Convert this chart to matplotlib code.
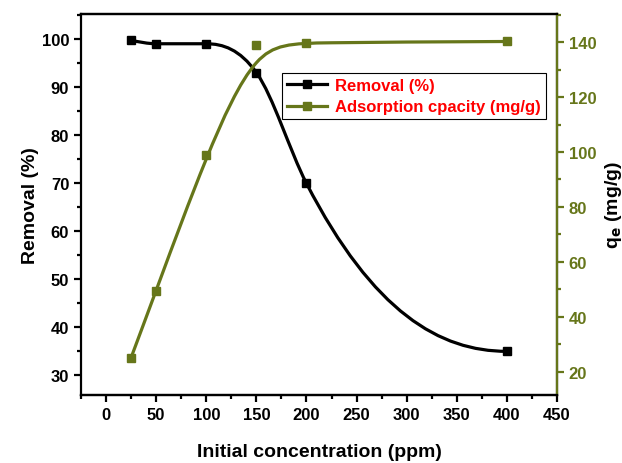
import numpy as np
import matplotlib.pyplot as plt
from matplotlib.path import Path
from matplotlib.patches import PathPatch
from matplotlib.lines import Line2D
from matplotlib.ticker import MultipleLocator

plt.rcParams['font.family'] = ['Liberation Sans', 'DejaVu Sans']
plt.rcParams['font.weight'] = 'bold'

# data
conc = [25, 50, 100, 150, 200, 400]
removal = [99.7, 99.0, 99.0, 93.0, 69.9, 34.9]
qe = [25.2, 49.6, 99.0, 139.0, 139.8, 140.2]

OLIVE = '#66761a'


def hermite_path(x, y):
    # smooth curve through the points (three point slopes, flat at turns), as bezier segments
    x = np.asarray(x, float); y = np.asarray(y, float)
    h = np.diff(x); d = np.diff(y) / h
    n = len(x)
    m = np.zeros(n)
    for k in range(1, n - 1):
        if d[k - 1] * d[k] > 0:
            m[k] = (h[k] * d[k - 1] + h[k - 1] * d[k]) / (h[k - 1] + h[k])
    def end(h0, h1, d0, d1):
        v = ((2 * h0 + h1) * d0 - h0 * d1) / (h0 + h1)
        if np.sign(v) != np.sign(d0):
            v = 0
        return v
    m[0] = end(h[0], h[1], d[0], d[1])
    m[-1] = end(h[-1], h[-2], d[-1], d[-2])
    verts = [(x[0], y[0])]; codes = [Path.MOVETO]
    for i in range(n - 1):
        t = h[i] / 3
        verts += [(x[i] + t, y[i] + t * m[i]), (x[i + 1] - t, y[i + 1] - t * m[i + 1]), (x[i + 1], y[i + 1])]
        codes += [Path.CURVE4] * 3
    return Path(verts, codes)


def bspline_path(x, y):
    # cubic b-spline with the points as control points, ends clamped
    q = np.column_stack([x, y]).astype(float)
    q = np.vstack([q[0], q[0], q, q[-1], q[-1]])
    verts = []; codes = []
    for i in range(len(q) - 3):
        a, b, c, e = q[i], q[i + 1], q[i + 2], q[i + 3]
        b0 = (a + 4 * b + c) / 6
        b1 = (4 * b + 2 * c) / 6
        b2 = (2 * b + 4 * c) / 6
        b3 = (b + 4 * c + e) / 6
        if i == 0:
            verts.append(tuple(b0)); codes.append(Path.MOVETO)
        verts += [tuple(b1), tuple(b2), tuple(b3)]
        codes += [Path.CURVE4] * 3
    return Path(verts, codes)


fig = plt.figure(figsize=(6.22, 4.64), dpi=100)
ax = fig.add_axes([81 / 622, 68 / 464, 476 / 622, 381 / 464])
ax2 = ax.twinx()

ax.add_patch(PathPatch(hermite_path(conc, removal), fill=False, ec='black', lw=2.3, zorder=3))
ax.plot(conc, removal, 's', color='black', ms=6, zorder=4)
ax2.add_patch(PathPatch(bspline_path(conc, qe), fill=False, ec=OLIVE, lw=2.3, zorder=3))
ax2.plot(conc, qe, 's', color=OLIVE, ms=6, zorder=4)

ax.set_xlim(-25, 450)
ax.set_ylim(25.8, 105.2)
ax2.set_ylim(11.6, 150.2)

ax.xaxis.set_major_locator(MultipleLocator(50))
ax.xaxis.set_minor_locator(MultipleLocator(25))
ax.yaxis.set_major_locator(MultipleLocator(10))
ax.yaxis.set_minor_locator(MultipleLocator(5))
ax2.yaxis.set_major_locator(MultipleLocator(20))
ax2.yaxis.set_minor_locator(MultipleLocator(10))

for a in (ax, ax2):
    for s in a.spines.values():
        s.set_linewidth(1.6)
ax2.spines['right'].set_color(OLIVE)
ax2.spines['left'].set_visible(False)

ax.tick_params(axis='both', which='major', direction='out', length=5, width=1.6, labelsize=12)
ax.tick_params(axis='both', which='minor', direction='out', length=3, width=1.6)
ax2.tick_params(axis='y', which='major', direction='out', length=5, width=1.6, labelsize=12,
                color=OLIVE, labelcolor=OLIVE)
ax2.tick_params(axis='y', which='minor', direction='out', length=3, width=1.6, color=OLIVE)
for lab in ax.get_xticklabels() + ax.get_yticklabels() + ax2.get_yticklabels():
    lab.set_fontweight('bold')

ax.set_xlabel('Initial concentration (ppm)', fontsize=14, fontweight='bold', labelpad=15)
ax.set_ylabel('Removal (%)', fontsize=14, fontweight='bold', labelpad=2)
ax2.set_ylabel(r'q$_\mathbf{e}$ (mg/g)', fontsize=14, fontweight='bold', labelpad=5)

handles = [Line2D([], [], color='black', lw=2.3, marker='s', ms=6),
           Line2D([], [], color=OLIVE, lw=2.3, marker='s', ms=6)]
leg = ax2.legend(handles, ['Removal (%)', 'Adsorption cpacity (mg/g)'],
                 loc='upper right', bbox_to_anchor=(0.977, 0.846), fancybox=False,
                 edgecolor='black', framealpha=1, fontsize=12, handlelength=2.4,
                 borderpad=0.3, labelspacing=0.4, handletextpad=0.5, borderaxespad=0)
leg.get_frame().set_linewidth(0.8)
for t in leg.get_texts():
    t.set_color('red')
    t.set_fontweight('bold')

fig.savefig('out.png', dpi=100)
